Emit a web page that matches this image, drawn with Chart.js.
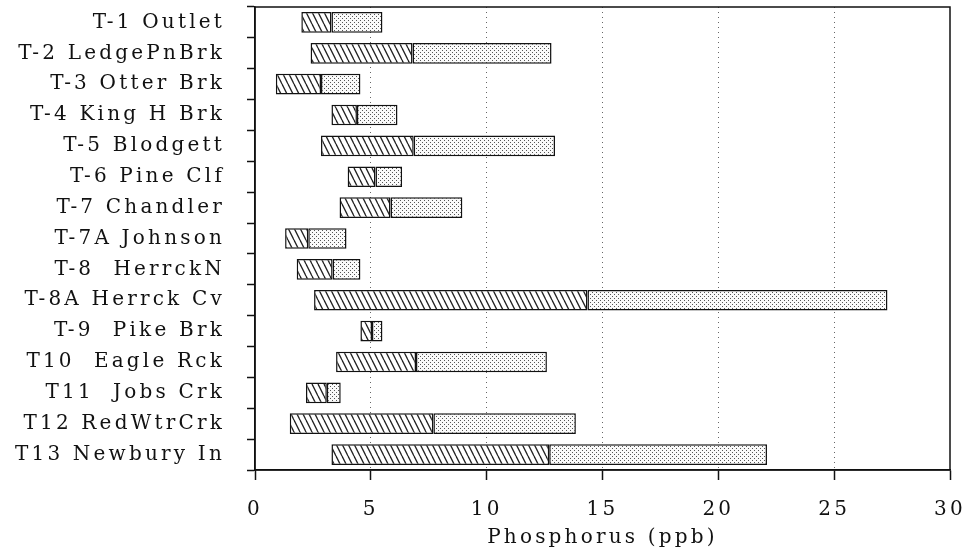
<!DOCTYPE html>
<html>
<head>
<meta charset="utf-8">
<script src="https://cdn.jsdelivr.net/npm/chart.js@4"></script>
<style>
  html, body { margin: 0; padding: 0; background: #fff; }
  #wrap { width: 969px; height: 552px; }
</style>
</head>
<body>
<div id="wrap"><canvas id="chart"></canvas></div>
<script>
// Phosphorus ranges per tributary: low end, middle split, high end (ppb)
const stations = [
  'T-1 Outlet', 'T-2 LedgePnBrk', 'T-3 Otter Brk', 'T-4 King H Brk', 'T-5 Blodgett',
  'T-6 Pine Clf', 'T-7 Chandler', 'T-7A Johnson', 'T-8  HerrckN', 'T-8A Herrck Cv',
  'T-9  Pike Brk', 'T10  Eagle Rck', 'T11  Jobs Crk', 'T12 RedWtrCrk', 'T13 Newbury In'
];
const lowVals = [2.0, 2.4, 0.9, 3.3, 2.85, 4.0, 3.65, 1.3, 1.8, 2.55, 4.55, 3.5, 2.2, 1.5, 3.3];
const midVals = [3.3, 6.8, 2.85, 4.4, 6.85, 5.2, 5.85, 2.3, 3.35, 14.35, 5.05, 6.95, 3.1, 7.7, 12.7];
const highVals = [5.5, 12.8, 4.55, 6.15, 12.95, 6.35, 8.95, 3.95, 4.55, 27.3, 5.5, 12.6, 3.7, 13.85, 22.1];
const xTicks = [0, 5, 10, 15, 20, 25, 30];

const FONT = 'DejaVu Serif';
const SPACING = '3.2px';

function hatchPattern(ctx) {
  const c = document.createElement('canvas');
  c.width = 6; c.height = 12;
  const g = c.getContext('2d');
  g.fillStyle = '#fff';
  g.fillRect(0, 0, 6, 12);
  g.strokeStyle = '#222';
  g.lineWidth = 1.3;
  for (const dx of [-6, 0, 6]) {
    g.beginPath();
    g.moveTo(dx, 0);
    g.lineTo(dx + 6, 12);
    g.stroke();
  }
  return ctx.createPattern(c, 'repeat');
}

function dotPattern(ctx) {
  const c = document.createElement('canvas');
  c.width = 4; c.height = 4;
  const g = c.getContext('2d');
  g.fillStyle = '#fafafa';
  g.fillRect(0, 0, 4, 4);
  g.fillStyle = '#555';
  g.fillRect(0, 0, 1, 1);
  g.fillRect(2, 2, 1, 1);
  return ctx.createPattern(c, 'repeat');
}

// canvas letter spacing gets reset whenever the canvas is resized
const spacingPlugin = {
  id: 'spacing',
  beforeUpdate(chart) { chart.ctx.letterSpacing = SPACING; },
  beforeDraw(chart) { chart.ctx.letterSpacing = SPACING; }
};

const framePlugin = {
  id: 'frame',
  afterDraw(chart) {
    const { ctx, chartArea: a } = chart;
    ctx.save();
    ctx.strokeStyle = '#111';
    ctx.lineWidth = 1.5;
    ctx.strokeRect(a.left, a.top, a.right - a.left, a.bottom - a.top);
    ctx.restore();
  }
};

const ctx = document.getElementById('chart').getContext('2d');

new Chart(ctx, {
  type: 'bar',
  data: {
    labels: stations,
    datasets: [
      {
        label: 'low',
        data: lowVals.map((v, i) => [v, midVals[i]]),
        backgroundColor: hatchPattern(ctx),
        borderColor: '#111',
        borderWidth: 1.5,
        borderSkipped: false,
        grouped: false,
        barPercentage: 0.67,
        categoryPercentage: 1
      },
      {
        label: 'high',
        data: midVals.map((v, i) => [v, highVals[i]]),
        backgroundColor: dotPattern(ctx),
        borderColor: '#111',
        borderWidth: 1.5,
        borderSkipped: false,
        grouped: false,
        barPercentage: 0.67,
        categoryPercentage: 1
      }
    ]
  },
  options: {
    indexAxis: 'y',
    responsive: true,
    maintainAspectRatio: false,
    animation: false,
    layout: { padding: { top: 7, right: 19, bottom: 0, left: 0 } },
    plugins: {
      legend: { display: false },
      tooltip: { enabled: false }
    },
    scales: {
      x: {
        type: 'linear',
        min: 0,
        max: 30,
        afterBuildTicks: (scale) => { scale.ticks = xTicks.map(v => ({ value: v })); },
        afterFit: (scale) => {
          scale.height = 82;
          scale.paddingLeft = 0;
          scale.paddingRight = 0;
        },
        ticks: {
          color: '#111',
          font: { family: FONT, size: 20 },
          padding: 18,
          maxRotation: 0
        },
        grid: {
          color: (c) => (c.tick && (c.tick.value === 0 || c.tick.value === 30)) ? 'rgba(0,0,0,0)' : '#666',
          lineWidth: 1,
          tickLength: 10,
          tickColor: '#111',
          tickWidth: 1.5,
          tickBorderDash: []
        },
        border: { color: '#111', width: 1.5, dash: [1, 4] },
        title: {
          display: true,
          text: 'Phosphorus (ppb)',
          color: '#111',
          font: { family: FONT, size: 20 },
          padding: { top: 0, bottom: 2 }
        }
      },
      y: {
        afterFit: (scale) => {
          scale.width = 255;
          scale.paddingTop = 0;
          scale.paddingBottom = 0;
        },
        ticks: {
          color: '#111',
          font: { family: FONT, size: 20 },
          padding: 22
        },
        grid: {
          drawOnChartArea: false,
          tickLength: 8,
          color: '#111',
          tickWidth: 1.5
        },
        border: { color: '#111', width: 1.5 }
      }
    }
  },
  plugins: [spacingPlugin, framePlugin]
});
</script>
</body>
</html>
